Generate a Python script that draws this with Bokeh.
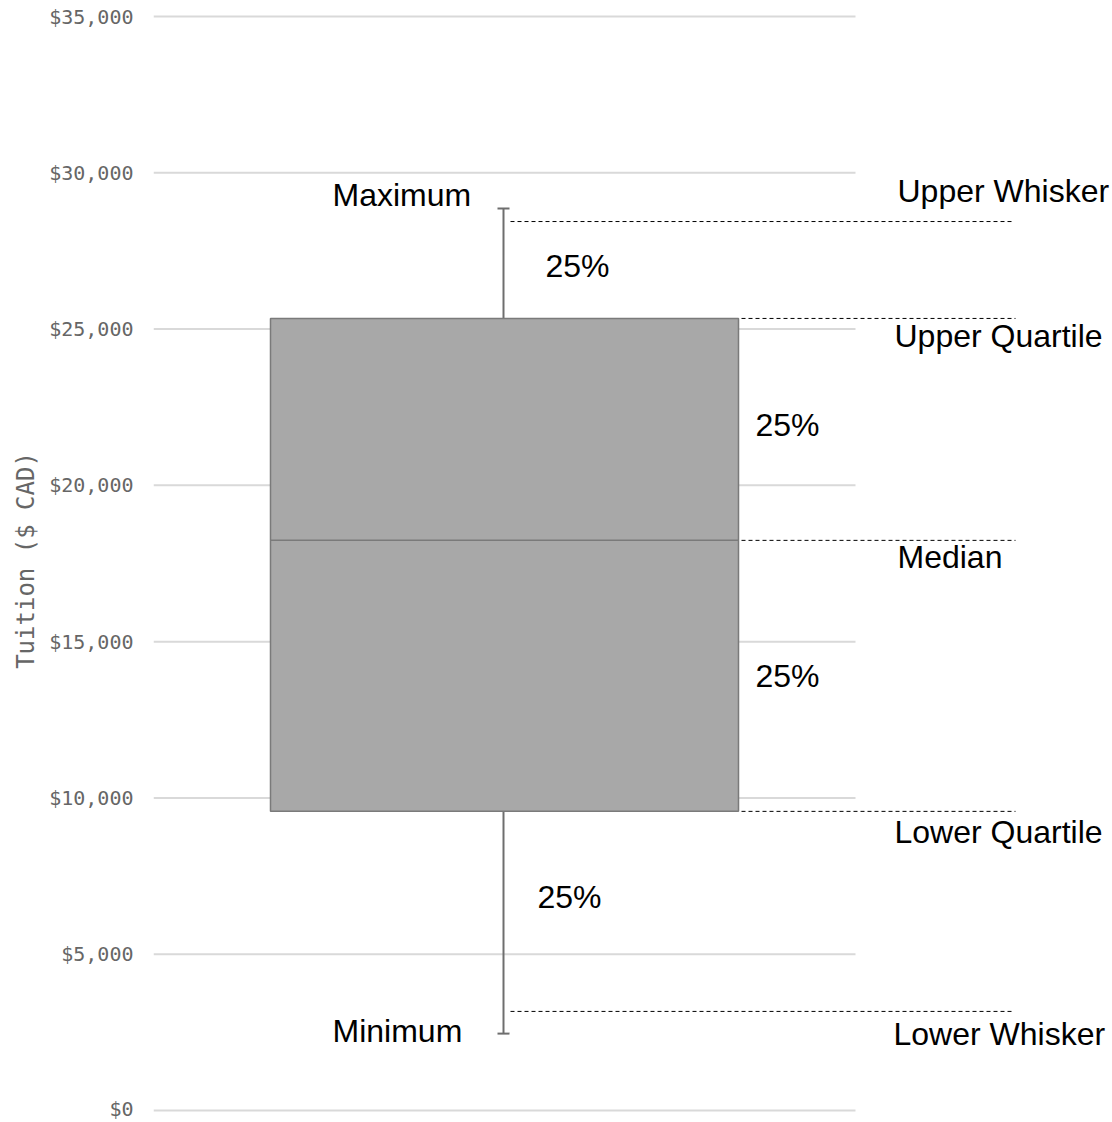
from bokeh.plotting import figure
from bokeh.models import Range1d, NumeralTickFormatter, FixedTicker, ColumnDataSource
from bokeh.core.properties import value
from bokeh.embed import file_html
from bokeh.resources import INLINE

# ---- data (Tuition, $ CAD) ----
stat_names = ["Minimum", "Lower Quartile", "Median", "Upper Quartile", "Maximum"]
stat_values = [2460, 9570, 18240, 25340, 28860]
upper_whisker_guide = 28440
lower_whisker_guide = 3170
tick_values = [0, 5000, 10000, 15000, 20000, 25000, 30000, 35000]
share_labels = ["25%", "25%", "25%", "25%"]

vmin, q1, med, q3, vmax = stat_values

# ---- layout helpers (page pixel geometry) ----
ppu = (1110 - 16) / 35000.0          # pixels per dollar
def px(d):                          # pixel offset -> data units (positive = down)
    return -d / ppu

W, H = 1110, 1120
p = figure(width=W, height=H, output_backend="svg", toolbar_location=None,
           x_axis_location=None,
           x_range=Range1d(153, W),
           y_range=Range1d(-(H - 1110) / ppu, 35000 + 16 / ppu),
           min_border_left=153, min_border_right=0, min_border_top=0, min_border_bottom=0)
p.outline_line_color = None
p.grid.visible = False
p.background_fill_color = "white"

# y axis
ax = p.yaxis[0]
ax.ticker = FixedTicker(ticks=tick_values)
ax.formatter = NumeralTickFormatter(format="$0,0")
ax.axis_line_color = None
ax.major_tick_line_color = None
ax.minor_tick_line_color = None
ax.major_tick_out = 0
ax.major_label_standoff = 20
ax.major_label_text_font = "DejaVu Sans Mono"
ax.major_label_text_font_size = "20px"
ax.major_label_text_color = "#666666"
ax.axis_label = "Tuition ($ CAD)"
ax.axis_label_text_font = "DejaVu Sans Mono"
ax.axis_label_text_font_size = "24px"
ax.axis_label_text_font_style = "normal"
ax.axis_label_text_color = "#666666"
ax.axis_label_standoff = 6

# gridlines
p.segment(x0=[153] * len(tick_values), x1=[855] * len(tick_values),
          y0=tick_values, y1=tick_values, line_color="#d9d9d9", line_width=2)

# whisker
xc = 503
p.segment(x0=[xc, xc], x1=[xc, xc], y0=[vmin, q3], y1=[q1, vmax],
          line_color="#6e6e6e", line_width=2)
p.segment(x0=[xc - 6, xc - 6], x1=[xc + 6, xc + 6], y0=[vmin, vmax], y1=[vmin, vmax],
          line_color="#6e6e6e", line_width=2)

# box
p.quad(left=[270], right=[738], bottom=[q1], top=[q3],
       fill_color="#a8a8a8", line_color="#7a7a7a", line_width=1.5)
p.segment(x0=[270], x1=[738], y0=[med], y1=[med], line_color="#7a7a7a", line_width=1.5)

# dashed guides
p.segment(x0=[510, 741, 741, 741, 510], x1=[1012, 1015, 1015, 1015, 1012],
          y0=[upper_whisker_guide, q3, med, q1, lower_whisker_guide],
          y1=[upper_whisker_guide, q3, med, q1, lower_whisker_guide],
          line_color="black", line_width=1, line_dash="4 3")

# labels
lab_x = [332, 332, 897, 894, 897, 894, 893, 545, 755, 755, 537]
lab_y = [vmax + px(-13), vmin + px(-3),
         upper_whisker_guide + px(-31), q3 + px(18), med + px(17), q1 + px(21),
         lower_whisker_guide + px(23),
         (upper_whisker_guide + q3) / 2 + px(-4), (q3 + med) / 2 + px(-4),
         (med + q1) / 2 + px(0), (q1 + lower_whisker_guide) / 2 + px(-14)]
lab_t = ["Maximum", "Minimum", "Upper Whisker", "Upper Quartile", "Median",
         "Lower Quartile", "Lower Whisker"] + share_labels
src = ColumnDataSource(dict(x=lab_x, y=lab_y, t=lab_t))
p.text(x="x", y="y", text="t", source=src, text_font=value("Liberation Sans"),
       text_font_size="32px", text_color="black", text_align="left",
       text_baseline="middle")

open("out.html", "w").write(file_html(p, INLINE))
